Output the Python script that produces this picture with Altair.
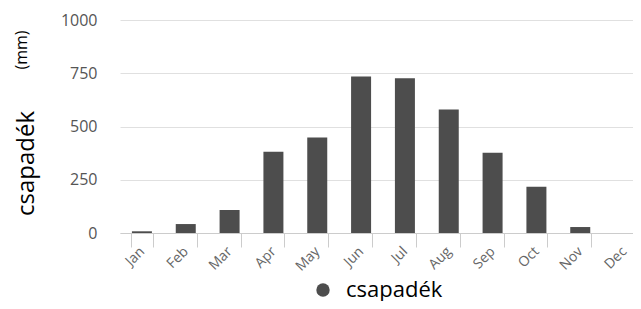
import altair as alt
import pandas as pd

months = ["Jan", "Feb", "Mar", "Apr", "May", "Jun", "Jul", "Aug", "Sep", "Oct", "Nov", "Dec"]
precip = [8, 42, 108, 382, 448, 735, 727, 580, 377, 217, 28, 0]
series = "csapadék"

df = pd.DataFrame({"month": months, "value": precip, "series": [series] * len(months)})

FONT = "Open Sans"

bars = alt.Chart(df).mark_bar(size=20).encode(
    x=alt.X("month:N", sort=months, title=None,
            scale=alt.Scale(paddingInner=0.5, paddingOuter=0.25, range=[0, 526]),
            axis=alt.Axis(labelAngle=-45, labelColor="#666", labelFontSize=14, labelFont=FONT,
                          domainColor="#ccc", tickColor="#ccc", tickSize=14, tickBand="extent",
                          labelPadding=2, labelBaseline="middle")),
    y=alt.Y("value:Q", title="csapadék",
            scale=alt.Scale(domain=[0, 1000]),
            axis=alt.Axis(values=[0, 250, 500, 750, 1000], format="d", domain=False, ticks=False,
                          gridColor="#e0e0e0", labelColor="#555", labelFontSize=16, labelFont=FONT,
                          labelPadding=23, titleFontSize=24, titleFont=FONT, titleFontWeight="normal",
                          titleColor="#000", titlePadding=22, titleY=143)),
    color=alt.Color("series:N", scale=alt.Scale(range=["#4d4d4d"]),
                    legend=alt.Legend(title=None, orient="none", legendX=192, legendY=259,
                                      symbolType="circle", symbolSize=180, labelOffset=12,
                                      labelFontSize=22, labelFont=FONT, labelColor="#000")),
)

unit = alt.Chart(pd.DataFrame({"t": ["(mm)"]})).mark_text(
    angle=270, fontSize=16, font=FONT, color="#000"
).encode(text="t:N", x=alt.value(-98), y=alt.value(30))

chart = alt.layer(bars, unit).properties(
    width=513, height=213,
    autosize=alt.AutoSizeParams(type="none"),
    padding={"left": 112, "top": 12, "right": 0, "bottom": 68},
).configure_view(stroke=None)

chart.save("out.html", embed_options={"renderer": "svg", "actions": False})
